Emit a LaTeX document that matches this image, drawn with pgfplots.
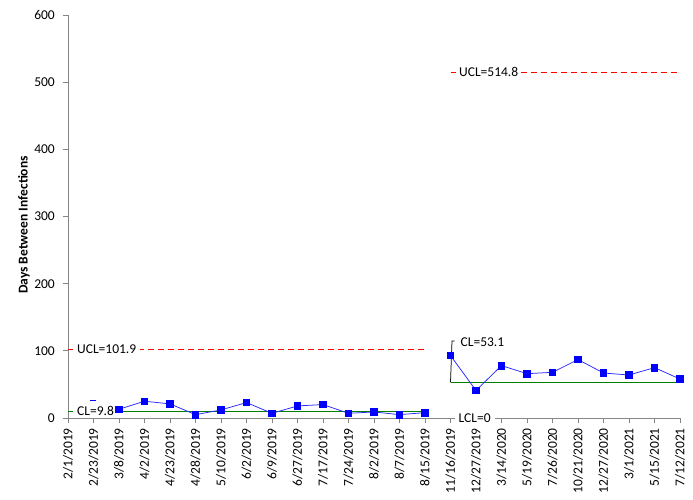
\documentclass[border=0pt]{standalone}
\usepackage{pgfplots}
\pgfplotsset{compat=1.18}
\usepackage{fontspec}
\setmainfont{Carlito}
\definecolor{axgray}{RGB}{134,134,134}
\definecolor{dblue}{RGB}{40,40,255}
\definecolor{cgreen}{RGB}{0,128,0}
\begin{document}
\begin{tikzpicture}
\useasboundingbox (-68pt,-81pt) rectangle (625pt,418pt);
\begin{axis}[
  at={(0pt,0pt)}, anchor=south west,
  scale only axis, width=612pt, height=403pt,
  xmin=0, xmax=24, ymin=0, ymax=600,
  axis x line=bottom, axis y line=left,
  axis line style={-, draw=axgray, line width=0.75pt},
  tick style={draw=axgray, line width=0.75pt},
  major tick length=5pt,
  tick align=outside,
  xtick={0,...,24},
  xticklabels={2/1/2019,2/23/2019,3/8/2019,4/2/2019,4/23/2019,4/28/2019,5/10/2019,6/2/2019,6/9/2019,6/27/2019,7/17/2019,7/24/2019,8/2/2019,8/7/2019,8/15/2019,11/16/2019,12/27/2019,3/14/2020,5/19/2020,7/26/2020,10/21/2020,12/27/2020,3/1/2021,5/15/2021,7/12/2021},
  ytick={0,100,...,600},
  /pgf/number format/assume math mode=true,
  tick label style={font=\fontsize{13.5}{16}\selectfont, text=black},
  xticklabel style={rotate=90, anchor=east, inner sep=0pt},
  xticklabel shift=5pt,
  yticklabel style={inner sep=0pt},
  yticklabel shift=8pt,
  ylabel={Days Between Infections},
  ylabel style={font=\fontsize{13.5}{16}\selectfont\bfseries, at={(axis description cs:-0.072,0.479)}, anchor=center},
  clip=false,
]
% control limits phase 1
\addplot[draw=red, line width=0.75pt, dash pattern=on 6pt off 4pt] coordinates {(0,101.9) (14,101.9)};
\addplot[draw=cgreen, line width=0.75pt] coordinates {(0,9.8) (14,9.8)};
% control limits phase 2
\addplot[draw=red, line width=0.75pt, dash pattern=on 6pt off 4pt] coordinates {(15,514.8) (24,514.8)};
\addplot[draw=cgreen, line width=0.75pt] coordinates {(15,53.1) (24,53.1)};
% data
\addplot[draw=dblue, line width=0.75pt, mark=square*, mark size=3.3pt, mark options={fill=blue, draw=blue, solid}] coordinates {
(2,13) (3,25) (4,21) (5,5) (6,12) (7,23) (8,7) (9,18) (10,20) (11,7) (12,9) (13,5) (14,8)};
\addplot[draw=dblue, line width=0.75pt, mark=square*, mark size=3.3pt, mark options={fill=blue, draw=blue, solid}] coordinates {
(15,93) (16,41) (17,78) (18,66) (19,68) (20,87) (21,67) (22,64) (23,75) (24,58)};
\addplot[only marks, mark=-, mark size=3pt, mark options={draw=blue, line width=1pt}] coordinates {(1,26)};
% labels
\node[anchor=west, fill=white, inner xsep=4pt, inner ysep=2pt, xshift=5pt, font=\fontsize{13.5}{16}\selectfont] at (axis cs:0,101.9) {UCL=101.9};
\node[anchor=west, fill=white, inner xsep=4pt, inner ysep=2pt, xshift=5pt, font=\fontsize{13.5}{16}\selectfont] at (axis cs:0,9.8) {CL=9.8};
\node[anchor=west, fill=white, inner xsep=3pt, inner ysep=2pt, xshift=5.5pt, font=\fontsize{13.5}{16}\selectfont] at (axis cs:15,514.8) {UCL=514.8};
\node[anchor=west, fill=white, inner xsep=4pt, inner ysep=2pt, xshift=4pt, font=\fontsize{13.5}{16}\selectfont] at (axis cs:15,0) {LCL=0};
\draw[black, line width=0.75pt] (axis cs:15,53.1) -- ([xshift=1.5pt]axis cs:15,114.6) -- ++(2.5pt,0);
\node[anchor=west, inner sep=2pt, xshift=8pt, font=\fontsize{13.5}{16}\selectfont] at (axis cs:15,113) {CL=53.1};
\end{axis}
\end{tikzpicture}
\end{document}
